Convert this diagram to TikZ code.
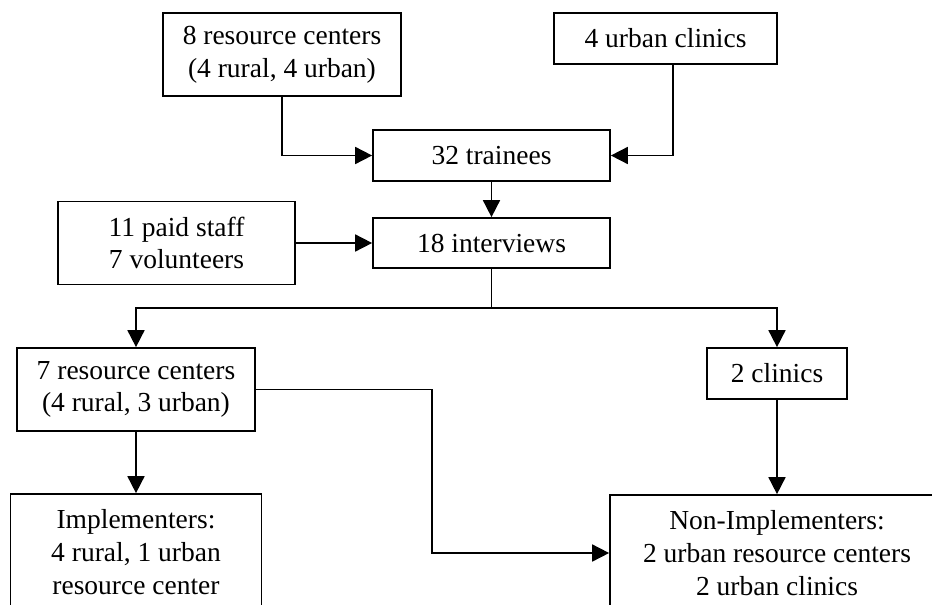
\documentclass[tikz,border=0pt]{standalone}
\usepackage{fontspec}
\setmainfont{Liberation Serif}
\usetikzlibrary{arrows.meta,calc}
\begin{document}
\begin{tikzpicture}[x=1pt,y=-1pt,
  box/.style={draw,line width=1.7pt,inner sep=0pt,align=center,
    font=\fontsize{27.5}{32.7}\selectfont},
  conn/.style={line width=1.7pt,-{Triangle[length=17pt,width=17pt]}},
  plain/.style={line width=1.7pt}]
\clip (0,0) rectangle (932,605);
\fill[white] (0,0) rectangle (932,605);
\node[box,minimum width=238pt,minimum height=83pt] (rc8) at (282,54.5) {8 resource centers\\(4 rural, 4 urban)};
\node[box,minimum width=223pt,minimum height=51pt] (uc4) at (665.5,38.5) {4 urban clinics};
\node[box,minimum width=237pt,minimum height=51pt] (tr32) at (491.5,155.5) {32 trainees};
\node[box,minimum width=237pt,minimum height=50pt] (int18) at (491.5,243) {18 interviews};
\node[box,minimum width=237pt,minimum height=83pt] (staff) at (176.5,243) {11 paid staff\\7 volunteers};
\node[box,minimum width=238pt,minimum height=83pt] (rc7) at (136,389.5) {7 resource centers\\(4 rural, 3 urban)};
\node[box,minimum width=140pt,minimum height=51pt] (cl2) at (777,373.5) {2 clinics};
\node[box,minimum width=251pt,minimum height=116pt] (impl) at (136,552) {Implementers:\\4 rural, 1 urban\\resource center};
\node[box,minimum width=334pt,minimum height=116pt] (nonimpl) at (777,553) {Non-Implementers:\\2 urban resource centers\\2 urban clinics};
\coordinate (split) at (491.5,308);
\coordinate (jog) at (432,0);
\draw[conn] (rc8.south) |- (tr32.west);
\draw[conn] ([xshift=7.5pt]uc4.south) |- (tr32.east);
\draw[conn] (tr32.south) -- (int18.north);
\draw[conn] (staff.east) -- (int18.west);
\draw[plain] (int18.south) -- (split);
\draw[conn] (split) -| (rc7.north);
\draw[conn] (split) -| (cl2.north);
\draw[conn] (rc7.south) -- (impl.north);
\draw[conn] (rc7.east) -- (rc7.east -| jog) |- (nonimpl.west);
\draw[conn] (cl2.south) -- (nonimpl.north);
\end{tikzpicture}
\end{document}
